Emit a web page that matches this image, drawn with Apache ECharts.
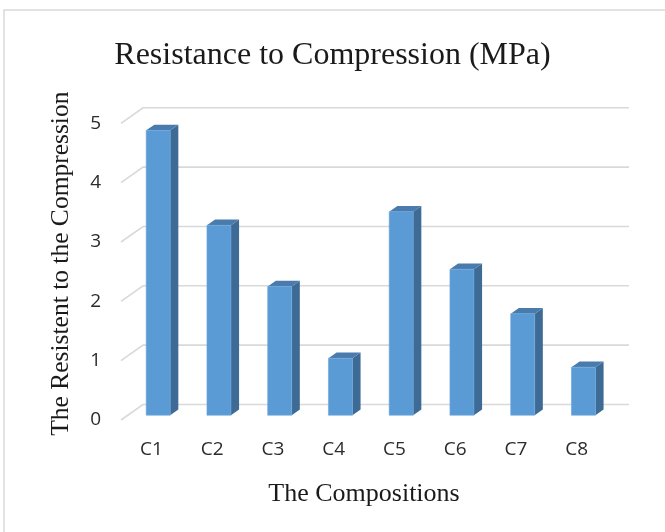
<!DOCTYPE html>
<html>
<head>
<meta charset="utf-8">
<script src="https://cdn.jsdelivr.net/npm/echarts@6/dist/echarts.min.js"></script>
<style>
  html, body { margin: 0; padding: 0; background: #fff; }
  #main { width: 665px; height: 532px; }
</style>
</head>
<body>
<div id="main"></div>
<script>
var categories = ['C1', 'C2', 'C3', 'C4', 'C5', 'C6', 'C7', 'C8'];
var resistance = [4.8, 3.2, 2.17, 0.96, 3.43, 2.46, 1.71, 0.81];
var yTicks = [0, 1, 2, 3, 4, 5];

// depth of the 3d box (front plane -> back wall)
var DEPTH_X = 22, DEPTH_Y = -15.5;

var myChart = echarts.init(document.getElementById('main'));

var barData = resistance.map(function (v, i) { return [i, v]; });
var gridData = yTicks.map(function (v) { return [0, v]; });

function renderWall(params, api) {
    var cs = params.coordSys;
    var y = api.coord([0, api.value(1)])[1];
    return {
        type: 'polyline',
        shape: {
            points: [
                [cs.x, y],
                [cs.x + DEPTH_X, y + DEPTH_Y],
                [cs.x + cs.width + DEPTH_X, y + DEPTH_Y]
            ]
        },
        style: { stroke: '#d9d9d9', lineWidth: 1.6, fill: null }
    };
}

function renderBar(params, api) {
    var top = api.coord([api.value(0), api.value(1)]);
    var base = api.coord([api.value(0), 0]);
    var w = api.size([1, 0])[0] * 0.395;
    // bar sits at ~1/3 of the depth, its own depth is ~1/3
    var ox = DEPTH_X * 0.31, oy = DEPTH_Y * 0.31;
    var dx = DEPTH_X * 0.37, dy = DEPTH_Y * 0.37;
    var L = top[0] - w / 2 + ox, R = top[0] + w / 2 + ox;
    var T = top[1] + oy, B = base[1] + oy;
    return {
        type: 'group',
        children: [
            {
                type: 'polygon',
                shape: { points: [[R, T], [R + dx, T + dy], [R + dx, B + dy], [R, B]] },
                style: { fill: '#3e6b95' }
            },
            {
                type: 'polygon',
                shape: { points: [[L, T], [R, T], [R + dx, T + dy], [L + dx, T + dy]] },
                style: { fill: '#4a7bad' }
            },
            {
                type: 'rect',
                shape: { x: L, y: T, width: R - L, height: B - T },
                style: { fill: '#5b9bd5', stroke: '#6aa6dc', lineWidth: 0.6 }
            }
        ]
    };
}

option = {
    backgroundColor: '#fff',
    animation: false,
    title: {
        text: 'Resistance to Compression (MPa)',
        left: 'center',
        top: 35,
        textStyle: {
            fontFamily: 'Liberation Serif',
            fontSize: 32,
            fontWeight: 'normal',
            color: '#1a1a1a'
        }
    },
    graphic: [
        {
            type: 'rect',
            shape: { x: 4, y: 10, width: 700, height: 600 },
            style: { fill: null, stroke: '#d9d9d9', lineWidth: 1.5 },
            silent: true
        }
    ],
    grid: {
        left: 121,
        right: 58,
        top: 123.3,
        bottom: 112
    },
    xAxis: {
        type: 'category',
        data: categories,
        name: 'The Compositions',
        nameLocation: 'middle',
        nameGap: 61,
        nameTextStyle: {
            fontFamily: 'Liberation Serif',
            fontSize: 26,
            color: '#1a1a1a'
        },
        axisLine: { show: false },
        axisTick: { show: false },
        axisLabel: {
            margin: 20,
            fontFamily: 'Open Sans',
            fontSize: 19,
            color: '#2b2b2b'
        }
    },
    yAxis: {
        type: 'value',
        min: 0,
        max: 5,
        interval: 1,
        name: 'The Resistent to the Compression',
        nameLocation: 'middle',
        nameGap: 47,
        nameTextStyle: {
            fontFamily: 'Liberation Serif',
            fontSize: 25.5,
            color: '#1a1a1a',
            padding: [0, 0, 0, 16]
        },
        axisLine: { show: false },
        axisTick: { show: false },
        splitLine: { show: false },
        axisLabel: {
            margin: 20,
            fontFamily: 'Open Sans',
            fontSize: 19,
            color: '#2b2b2b'
        }
    },
    series: [
        {
            type: 'custom',
            renderItem: renderWall,
            data: gridData,
            encode: { x: 0, y: 1 },
            clip: false,
            silent: true,
            z: 1
        },
        {
            type: 'custom',
            renderItem: renderBar,
            data: barData,
            encode: { x: 0, y: 1 },
            clip: false,
            z: 2
        }
    ]
};

myChart.setOption(option);
</script>
</body>
</html>
